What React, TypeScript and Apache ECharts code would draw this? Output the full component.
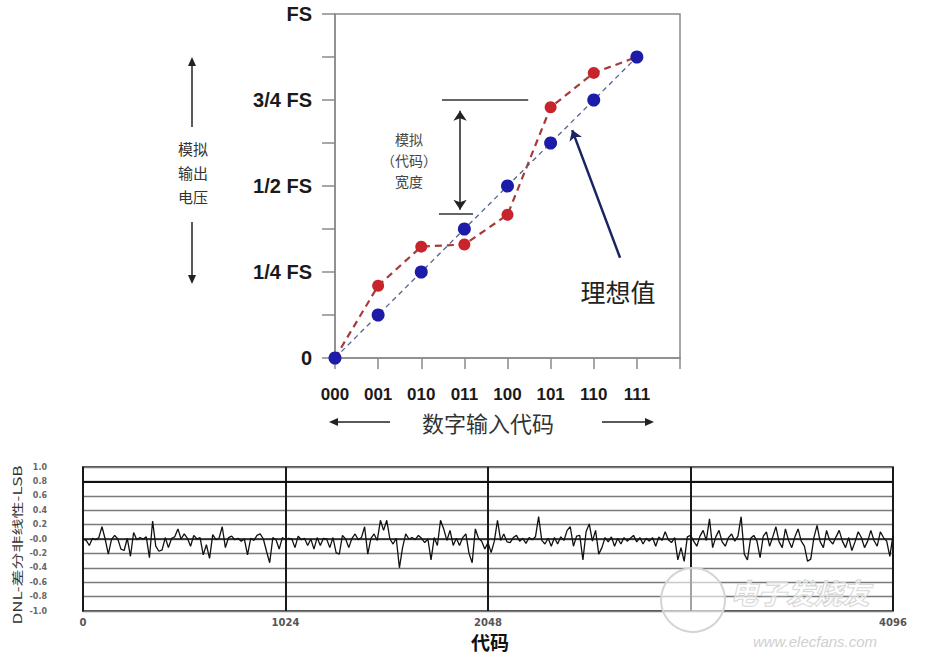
import React, { useEffect, useRef } from "react";
import * as echarts from "echarts";

// ---- Top chart: 3-bit DAC transfer function ----
const codeLabels = ["000", "001", "010", "011", "100", "101", "110", "111", ""];
const fsLabels = ["0", "", "1/4 FS", "", "1/2 FS", "", "3/4 FS", "", "FS"];
const idealValues = [0, 1, 2, 3, 4, 5, 6, 7];
const actualValues = [0, 1.68, 2.59, 2.64, 3.33, 5.83, 6.63, 7];

// ---- Bottom chart: DNL vs code ----
const dnlTickLabels: Record<number, string> = { 0: "0", 1024: "1024", 2048: "2048", 3072: "", 4096: "4096" };
const dnlStep = 16;
const dnlSeg1 = [
  0.0, -0.02, -0.09, 0.01, -0.01, 0.02, 0.17, 0.0, -0.21, -0.01, 0.05, 0.0, -0.14, -0.16, 0.01, -0.24,
  0.09, -0.01, 0.02, 0.0, 0.03, -0.26, 0.25, -0.1, -0.17, -0.15, 0.02, -0.12, 0.01, 0.03, 0.14, 0.0,
  0.07, 0.01, -0.1, 0.05, 0.0, 0.02, -0.22, -0.08, -0.27, 0.06, -0.01, 0.01, 0.17, -0.12, 0.02, 0.04,
  -0.01, 0.01, -0.03, 0.0, -0.22, 0.01, -0.02, 0.05, 0.07, 0.0, -0.17, -0.33, 0.02, -0.01, -0.14, 0.02,
];
const dnlSeg2 = [
  -0.01, 0.01, 0.0, -0.12, 0.04, -0.01, 0.01, -0.09, 0.0, -0.14, 0.02, -0.09, 0.01, 0.0, -0.12, 0.02,
  -0.19, -0.21, 0.05, 0.0, -0.12, 0.01, 0.07, -0.01, 0.02, 0.17, -0.21, 0.01, 0.07, -0.02, 0.26, 0.12,
  0.26, 0.0, -0.07, 0.01, -0.4, -0.12, 0.07, 0.0, 0.02, -0.01, 0.05, 0.01, -0.05, 0.0, -0.29, 0.02,
  -0.09, 0.26, 0.14, -0.02, 0.12, -0.09, 0.01, -0.09, 0.02, 0.07, -0.2, -0.33, 0.14, 0.01, -0.03, -0.14,
];
const dnlSeg3 = [
  -0.05, -0.19, -0.03, 0.26, -0.02, 0.07, -0.04, -0.05, 0.02, 0.05, -0.03, 0.01, -0.06, 0.02, -0.01, 0.03,
  0.31, -0.02, -0.07, 0.01, -0.1, 0.02, -0.07, 0.03, -0.02, 0.12, 0.17, -0.1, 0.04, 0.05, -0.29, 0.1,
  0.21, -0.03, 0.12, -0.21, -0.12, 0.02, -0.04, 0.03, -0.1, 0.01, -0.07, 0.02, -0.03, 0.01, 0.05, -0.04,
  0.02, -0.07, 0.01, -0.03, 0.02, -0.1, 0.03, -0.02, 0.1, -0.01, -0.05, 0.02, -0.29, -0.12, -0.31, 0.03,
];
const dnlSeg4 = [
  0.05, -0.03, -0.1, 0.04, 0.12, -0.02, 0.28, -0.12, 0.03, 0.12, -0.04, -0.1, 0.02, 0.07, -0.03, 0.04,
  0.31, -0.21, -0.29, 0.01, 0.05, -0.03, -0.26, 0.04, 0.1, -0.1, 0.03, 0.17, -0.04, -0.12, 0.14, -0.02,
  -0.12, 0.03, 0.14, -0.03, -0.1, -0.31, -0.28, 0.02, 0.19, -0.04, -0.12, 0.12, -0.02, -0.07, 0.03, 0.12,
  -0.03, -0.12, 0.02, -0.16, -0.04, 0.1, 0.02, -0.12, -0.03, 0.12, -0.02, -0.1, 0.1, 0.02, -0.03, -0.24,
];
const dnlLast = [0.05];

const CJK = "'Noto Sans CJK SC', sans-serif";
const ARIAL = "'Liberation Sans', Arial, sans-serif";

export default function App() {
  const ref = useRef<HTMLDivElement>(null);
  useEffect(() => {
    if (!ref.current) return;
    const chart = echarts.init(ref.current, null, { renderer: "svg" });
    const dnlValues = [...dnlSeg1, ...dnlSeg2, ...dnlSeg3, ...dnlSeg4, ...dnlLast];
    const dnlData = dnlValues.map((v, i) => [i * dnlStep, v]);
    const arrowHead = (x: number, y: number, dir: "up" | "down" | "left" | "right", c = "#222") => {
      const s = 4, l = 9;
      let pts: number[][] = [];
      if (dir === "up") pts = [[x, y], [x - s, y + l], [x + s, y + l]];
      if (dir === "down") pts = [[x, y], [x - s, y - l], [x + s, y - l]];
      if (dir === "left") pts = [[x, y], [x + l, y - s], [x + l, y + s]];
      if (dir === "right") pts = [[x, y], [x - l, y - s], [x - l, y + s]];
      return { type: "polygon", shape: { points: pts }, style: { fill: c } };
    };
    const centered = { align: "center", verticalAlign: "middle", textAlign: "center", textVerticalAlign: "middle" };
    const option: any = {
      animation: false,
      backgroundColor: "#ffffff",
      grid: [
        { left: 335, top: 14, width: 345, height: 344, show: true, borderColor: "#8a8a8a", borderWidth: 1.5, backgroundColor: "transparent" },
        { left: 83, top: 467, width: 810, height: 144, show: true, borderColor: "#1a1a1a", borderWidth: 1.5, backgroundColor: "transparent" },
      ],
      xAxis: [
        {
          gridIndex: 0, type: "value", min: 0, max: 8, interval: 1,
          axisLine: { show: true, lineStyle: { color: "#8a8a8a", width: 1.5 } },
          axisTick: { show: true, length: 11, lineStyle: { color: "#8a8a8a", width: 1.5 } },
          axisLabel: {
            formatter: (v: number) => codeLabels[Math.round(v)] ?? "",
            fontSize: 17, fontWeight: "bold", fontFamily: ARIAL, color: "#1a1a1a", margin: 28,
          },
          splitLine: { show: false },
        },
        {
          gridIndex: 1, type: "value", min: 0, max: 4096, interval: 1024,
          axisLine: { show: true, lineStyle: { color: "#1a1a1a", width: 1.5 } },
          axisTick: { show: false },
          axisLabel: {
            formatter: (v: number) => dnlTickLabels[Math.round(v)] ?? "",
            fontSize: 10, fontWeight: "bold", fontFamily: "'DejaVu Sans', sans-serif", color: "#555", margin: 6,
          },
          splitLine: { show: true, lineStyle: { color: "#1a1a1a", width: 2 } },
        },
      ],
      yAxis: [
        {
          gridIndex: 0, type: "value", min: 0, max: 8, interval: 1,
          axisLine: { show: true, lineStyle: { color: "#8a8a8a", width: 1.5 } },
          axisTick: { show: true, length: 13, lineStyle: { color: "#8a8a8a", width: 1.5 } },
          axisLabel: {
            formatter: (v: number) => fsLabels[Math.round(v)] ?? "",
            fontSize: 20, fontWeight: "bold", fontFamily: ARIAL, color: "#1a1a1a", margin: 23,
          },
          splitLine: { show: false },
        },
        {
          gridIndex: 1, type: "value", min: -1, max: 1, interval: 0.2,
          axisLine: { show: true, lineStyle: { color: "#1a1a1a", width: 1.5 } },
          axisTick: { show: false },
          axisLabel: {
            formatter: (v: number) => (Math.abs(v) < 1e-9 ? "-0.0" : v.toFixed(1)),
            fontSize: 8, fontWeight: "bold", fontFamily: "'DejaVu Sans', sans-serif", color: "#666", margin: 36,
          },
          splitLine: { show: true, lineStyle: { color: "#7a7a7a", width: 1.4 } },
        },
      ],
      series: [
        {
          name: "理想值", type: "line", xAxisIndex: 0, yAxisIndex: 0,
          data: idealValues.map((v, i) => [i, v]),
          symbol: "circle", symbolSize: 13,
          itemStyle: { color: "#1c1ca8" },
          lineStyle: { color: "#52658f", width: 1.3, type: [5, 4] },
          z: 3,
          markLine: {
            silent: true, symbolSize: 10, label: { show: false },
            data: [
              [{ coord: [2.48, 6], symbol: "none" }, { coord: [4.48, 6], symbol: "none", lineStyle: { color: "#333", width: 1.5, type: "solid" } }],
              [{ coord: [2.41, 3.35], symbol: "none" }, { coord: [3.2, 3.35], symbol: "none", lineStyle: { color: "#333", width: 1.5, type: "solid" } }],
              [{ coord: [2.9, 5.75], symbol: "arrow" }, { coord: [2.9, 3.45], symbol: "arrow", lineStyle: { color: "#222", width: 1.5, type: "solid" } }],
              [{ coord: [6.61, 2.33], symbol: "none" }, { coord: [5.5, 5.3], symbol: "arrow", lineStyle: { color: "#1b2463", width: 2.5, type: "solid" } }],
            ],
          },
        },
        {
          name: "实际值", type: "line", xAxisIndex: 0, yAxisIndex: 0,
          data: actualValues.map((v, i) => [i, v]),
          symbol: "circle", symbolSize: 12,
          itemStyle: { color: "#c8242b" },
          lineStyle: { color: "#a83a3a", width: 2.2, type: [7, 5] },
          z: 2,
        },
        {
          name: "DNL", type: "line", xAxisIndex: 1, yAxisIndex: 1,
          data: dnlData, symbol: "none",
          lineStyle: { color: "#111", width: 1.3 },
          markLine: {
            silent: true, symbol: "none", label: { show: false },
            lineStyle: { color: "#111", width: 2, type: "solid" },
            data: [{ yAxis: 0.8 }],
          },
        },
      ],
      graphic: [
        { type: "text", x: 409, y: 139, style: { text: "模拟", font: `14px ${CJK}`, fill: "#444", ...centered } },
        { type: "text", x: 409, y: 160, style: { text: "（代码）", font: `14px ${CJK}`, fill: "#444", ...centered } },
        { type: "text", x: 409, y: 181, style: { text: "宽度", font: `14px ${CJK}`, fill: "#444", ...centered } },
        { type: "text", x: 618, y: 291, style: { text: "理想值", font: `25px ${CJK}`, fill: "#222", ...centered } },
        { type: "text", x: 193, y: 148, style: { text: "模拟", font: `15px ${CJK}`, fill: "#333", ...centered } },
        { type: "text", x: 193, y: 172, style: { text: "输出", font: `15px ${CJK}`, fill: "#333", ...centered } },
        { type: "text", x: 193, y: 196, style: { text: "电压", font: `15px ${CJK}`, fill: "#333", ...centered } },
        { type: "line", shape: { x1: 192, y1: 127, x2: 192, y2: 64 }, style: { stroke: "#222", lineWidth: 1.5 } },
        arrowHead(192, 57, "up"),
        { type: "line", shape: { x1: 192, y1: 222, x2: 192, y2: 277 }, style: { stroke: "#222", lineWidth: 1.5 } },
        arrowHead(192, 284, "down"),
        { type: "text", x: 488, y: 422, style: { text: "数字输入代码", font: `22px ${CJK}`, fill: "#333", ...centered } },
        { type: "line", shape: { x1: 336, y1: 422, x2: 390, y2: 422 }, style: { stroke: "#222", lineWidth: 1.5 } },
        arrowHead(329, 422, "left"),
        { type: "line", shape: { x1: 602, y1: 422, x2: 647, y2: 422 }, style: { stroke: "#222", lineWidth: 1.5 } },
        arrowHead(654, 422, "right"),
        { type: "text", x: 490, y: 641, style: { text: "代码", font: `bold 19px ${CJK}`, fill: "#111", ...centered } },
        {
          type: "text", x: 17, y: 545, rotation: Math.PI / 2, scaleY: 0.7,
          style: { text: "DNL-差分非线性-LSB", font: `17px ${CJK}`, fill: "#333", ...centered },
        },
        // watermark
        { type: "circle", shape: { cx: 693, cy: 600, r: 32 }, style: { fill: "rgba(255,255,255,0.6)", stroke: "#d4d4d4", lineWidth: 2 }, z: 100 },
        { type: "text", x: 800, y: 592, style: { text: "电子发烧友", font: `italic bold 28px ${CJK}`, fill: "rgba(255,255,255,0.5)", stroke: "#cfcfcf", lineWidth: 1.2, ...centered }, z: 100 },
        { type: "text", x: 815, y: 641, style: { text: "www.elecfans.com", font: `italic 15px ${ARIAL}`, fill: "#d0d0d0", ...centered }, z: 100 },
      ],
    };
    chart.setOption(option);
    return () => chart.dispose();
  }, []);
  return <div ref={ref} style={{ position: "absolute", left: 0, top: 0, width: 928, height: 655, background: "#fff" }} />;
}
